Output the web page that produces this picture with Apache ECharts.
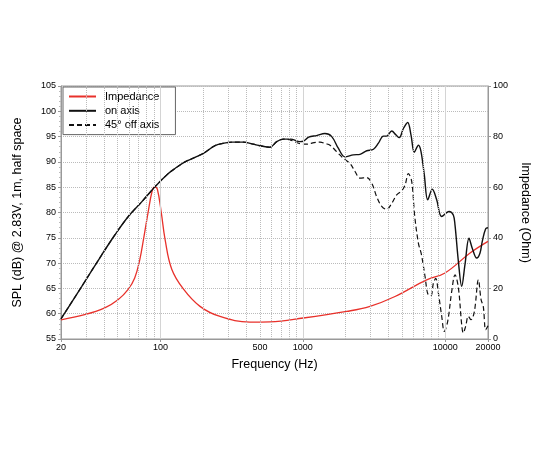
<!DOCTYPE html>
<html><head><meta charset="utf-8">
<script src="https://cdn.jsdelivr.net/npm/echarts@6/dist/echarts.min.js"></script>
<style>html,body{margin:0;padding:0;background:#fff}#c{width:550px;height:450px}</style>
</head><body><div id="c"></div>
<script>
// ---- data ----
const onAxisFreq = [20,28,38.6,47.9,59.4,73.8,91.5,113.5,126.5,148.6,184.5,205.5,241.5,280,320,382,449,500,588,655,730,820,955,1010,1100,1250,1430,1597,1775,1977,2263,2523,2813,3135,3397,3682,3883,4211,4520,4765,5087,5456,5757,6074,6490,6763,7140,7540,8125,8720,9460,10650,11410,11730,12390,13070,13780,14710,15520,16660,17580,18230,19260,20000];
const onAxisSpl = [59.0,65.4,71.6,75.6,79.2,82.1,85.1,87.7,88.7,90.0,91.2,91.9,93.2,93.7,93.9,93.9,93.5,93.2,92.9,94.0,94.5,94.5,94.0,94.1,94.9,95.2,95.6,95.0,92.7,91.0,91.4,91.5,92.2,92.5,93.7,95.1,95.1,96.1,95.3,94.8,96.6,97.8,95.3,91.9,93.3,92.1,87.4,82.5,84.6,82.5,79.2,80.2,79.5,77.5,70.3,65.4,69.7,74.9,72.9,71.0,72.0,74.3,76.8,77.0];

const offAxisFreq = [20,28,38.6,47.9,59.4,73.8,91.5,113.5,126.5,148.6,184.5,205.5,241.5,280,320,382,449,500,588,655,730,820,955,1065,1200,1320,1450,1552,1730,1925,2145,2327,2523,2813,3050,3305,3584,3883,4211,4566,4955,5228,5515,5824,6100,6490,6800,7210,7610,7960,8260,8590,8960,9460,9860,10420,11120,11730,12390,13070,13400,13930,14550,15200,16040,17120,17880,18540,19260,20000];
const offAxisSpl = [59.0,65.4,71.6,75.6,79.2,82.1,85.1,87.7,88.7,90.0,91.2,91.9,93.2,93.7,93.9,93.9,93.5,93.2,92.9,94.0,94.5,94.3,93.6,93.5,93.8,93.9,93.6,93.3,92.0,90.7,89.7,88.1,86.8,86.9,85.8,83.1,81.2,80.6,81.8,83.5,84.3,85.4,87.7,86.1,79.5,73.9,71.8,67.5,63.7,63.6,66.0,67.0,64.1,59.5,56.5,58.5,64.4,67.7,65.1,57.8,56.2,57.5,59.5,58.8,60.4,66.7,62.8,61.4,56.8,57.6];

const impFreq = [20,29.3,40.6,50.3,59.1,65.9,71.5,76.6,81.7,87.2,91,95,101.4,107.6,120,144.7,189.5,262,425,588,1007,2033,2966,4443,7414,9980,14960,20000];
const impOhm = [7.6,9.6,12.3,15.5,19.5,24.1,31.3,40.6,49.8,58.3,60.1,59.3,49.8,39.5,27.6,19.8,12.9,8.9,6.7,6.8,8.3,10.9,12.9,16.8,23.4,26.1,34.0,38.6];

const seriesNames = ['Impedance', 'on axis', '45\u00b0 off axis'];
const gridMinorFreqs = [30,40,50,60,70,80,90,200,300,400,500,600,700,800,900,2000,3000,4000,5000,6000,7000,8000,9000];
const gridMajorFreqs = [100,1000,10000];
const extraTickLabels = [500];

// ---- chart ----
const FONT = "'Liberation Sans', Arial, Helvetica, sans-serif";
const zip = (xs, ys) => xs.map((x, i) => [x, ys[i]]);
const chart = echarts.init(document.getElementById('c'), null, {renderer: 'canvas'});

const gridMarks = []
  .concat(gridMinorFreqs.filter(f => extraTickLabels.indexOf(f) < 0).map(f => ({xAxis: f})))
  .concat(gridMajorFreqs.map(f => ({xAxis: f, lineStyle: {type: 'solid', color: '#d4d4d4', width: 1}})))
  .concat(extraTickLabels.map(f => ({xAxis: f, label: {show: true, position: 'start', distance: 4,
      formatter: String(f), color: '#000', fontSize: 9, fontFamily: FONT}})));

const option = {
  animation: false,
  backgroundColor: '#fff',
  textStyle: {fontFamily: FONT},
  grid: {left: 61, right: 62, top: 86, bottom: 111, show: true, borderColor: '#999', borderWidth: 1},
  legend: {
    data: seriesNames,
    orient: 'vertical', left: 63, top: 87,
    backgroundColor: '#fff', borderColor: '#666', borderWidth: 1, borderRadius: 0,
    padding: [4, 16, 4, 5], itemWidth: 27, itemHeight: 10, itemGap: 3.3,
    itemStyle: {opacity: 0},
    textStyle: {fontSize: 11, color: '#000', fontFamily: FONT, padding: [0, 0, 0, 4]}
  },
  xAxis: {
    type: 'log', logBase: 10, min: 20, max: 20000,
    name: 'Frequency (Hz)', nameLocation: 'middle', nameGap: 19,
    nameTextStyle: {fontSize: 12.5, color: '#000', fontFamily: FONT},
    axisLine: {show: true, lineStyle: {color: '#999'}},
    axisTick: {show: true, length: 3, lineStyle: {color: '#999'}},
    axisLabel: {color: '#000', fontSize: 9, margin: 4, fontFamily: FONT, formatter: v => String(Math.round(v))},
    splitLine: {show: false}
  },
  yAxis: [{
    type: 'value', min: 55, max: 105, interval: 5, position: 'left',
    name: 'SPL (dB) @ 2.83V, 1m, half space', nameLocation: 'middle', nameGap: 37,
    nameTextStyle: {fontSize: 12.5, color: '#000', fontFamily: FONT},
    axisLine: {show: true, lineStyle: {color: '#999'}},
    axisTick: {show: true, length: 3, lineStyle: {color: '#999'}},
    minorTick: {show: true, splitNumber: 5, length: 2, lineStyle: {color: '#bbb'}},
    axisLabel: {color: '#000', fontSize: 9, margin: 5, fontFamily: FONT},
    splitLine: {show: true, lineStyle: {type: 'dotted', color: '#bbb', width: 1}}
  }, {
    type: 'value', min: 0, max: 100, interval: 20, position: 'right',
    name: 'Impedance (Ohm)', nameLocation: 'middle', nameGap: 30, nameRotate: -90,
    nameTextStyle: {fontSize: 12.5, color: '#000', fontFamily: FONT},
    axisLine: {show: true, lineStyle: {color: '#999'}},
    axisTick: {show: true, length: 3, lineStyle: {color: '#999'}},
    axisLabel: {color: '#000', fontSize: 9, margin: 5, fontFamily: FONT},
    splitLine: {show: false}
  }],
  series: [{
    name: 'grid', type: 'line', data: [[20, 55]], symbol: 'none', z: 1,
    lineStyle: {width: 0}, silent: true,
    markLine: {silent: true, symbol: ['none', 'none'], animation: false,
      label: {show: false},
      lineStyle: {type: 'dotted', color: '#bbb', width: 1},
      emphasis: {disabled: true},
      data: gridMarks}
  }, {
    name: seriesNames[0], type: 'line', yAxisIndex: 1, data: zip(impFreq, impOhm),
    symbol: 'none', smooth: 0.4, z: 3,
    lineStyle: {color: '#e8312b', width: 1.3}, itemStyle: {color: '#e8312b'}
  }, {
    name: seriesNames[1], type: 'line', yAxisIndex: 0, data: zip(onAxisFreq, onAxisSpl),
    symbol: 'none', smooth: 0.35, z: 4,
    lineStyle: {color: '#111', width: 1.4}, itemStyle: {color: '#111'}
  }, {
    name: seriesNames[2], type: 'line', yAxisIndex: 0, data: zip(offAxisFreq, offAxisSpl),
    symbol: 'none', smooth: 0.35, z: 3,
    lineStyle: {color: '#111', width: 1.2, type: [5, 3]}, itemStyle: {color: '#111'}
  }]
};
chart.setOption(option);
</script>
</body></html>
